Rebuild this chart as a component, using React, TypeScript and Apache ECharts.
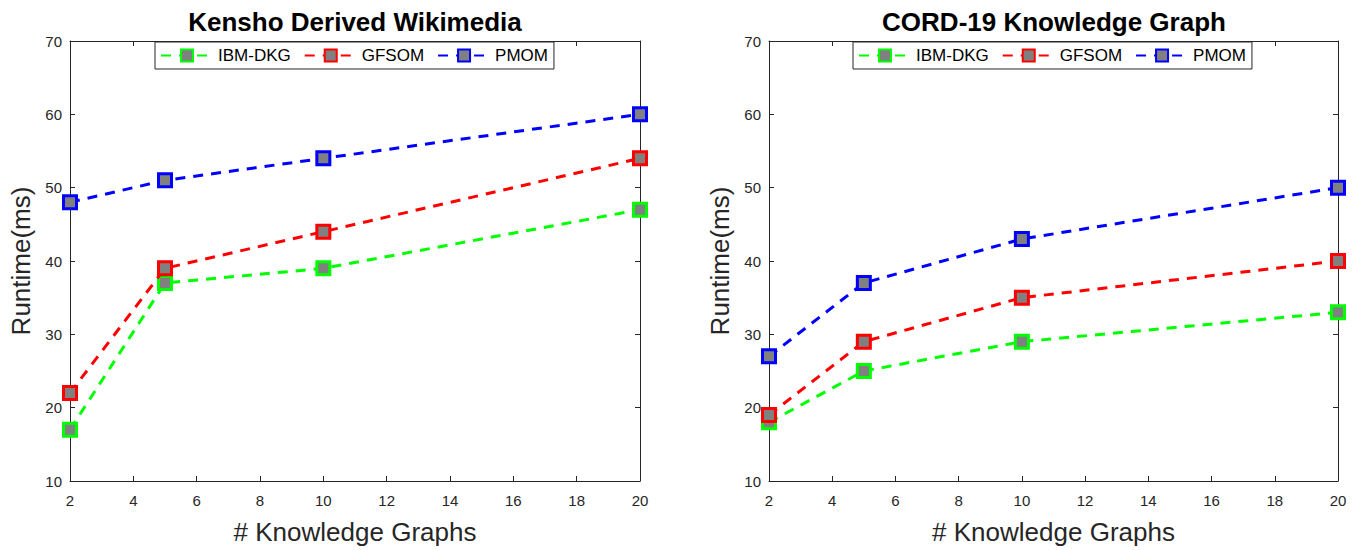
import React, { useEffect, useRef } from "react";
import * as echarts from "echarts";

const xValues = [2, 5, 10, 20];
const seriesNames = ["IBM-DKG", "GFSOM", "PMOM"];
const seriesColors = ["#00ff00", "#ff0000", "#0000ff"];

const kenshoIBM = [17, 37, 39, 47];
const kenshoGFSOM = [22, 39, 44, 54];
const kenshoPMOM = [48, 51, 54, 60];

const cordIBM = [18, 25, 29, 33];
const cordGFSOM = [19, 29, 35, 40];
const cordPMOM = [27, 37, 43, 50];

const panelTitles = ["Kensho Derived Wikimedia", "CORD-19 Knowledge Graph"];
const xAxisName = "# Knowledge Graphs";
const yAxisName = "Runtime(ms)";

const FONT = "'Liberation Sans', Arial, Helvetica, sans-serif";
const AXIS_COLOR = "#262626";

export default function App() {
  const ref = useRef<HTMLDivElement>(null);
  useEffect(() => {
    document.documentElement.style.overflow = "hidden";
    document.body.style.margin = "0";
    document.body.style.overflow = "hidden";
    const chart = echarts.init(ref.current!, null, { renderer: "svg" });
    const grids = [
      { left: 70, top: 41, width: 570, height: 446 },
      { left: 769, top: 41, width: 569, height: 446 },
    ];
    const panels = [
      [kenshoIBM, kenshoGFSOM, kenshoPMOM],
      [cordIBM, cordGFSOM, cordPMOM],
    ];
    const lineAxis = { show: true, onZero: false, lineStyle: { color: AXIS_COLOR, width: 1 } };
    const tick = { show: true, inside: true, length: 5, lineStyle: { color: AXIS_COLOR } };
    const xAxes: any[] = [];
    const yAxes: any[] = [];
    grids.forEach((_, gi) => {
      xAxes.push({
        type: "value",
        gridIndex: gi,
        min: 2,
        max: 20,
        interval: 2,
        position: "bottom",
        name: xAxisName,
        nameLocation: "middle",
        nameGap: 38,
        nameTextStyle: { fontSize: 26, color: AXIS_COLOR, fontFamily: FONT },
        axisLine: lineAxis,
        axisTick: tick,
        axisLabel: { fontSize: 15, color: AXIS_COLOR, fontFamily: FONT, margin: 12 },
        splitLine: { show: false },
      });
      xAxes.push({
        type: "value",
        gridIndex: gi,
        min: 2,
        max: 20,
        interval: 2,
        position: "top",
        axisLine: lineAxis,
        axisTick: tick,
        axisLabel: { show: false },
        splitLine: { show: false },
      });
      yAxes.push({
        type: "value",
        gridIndex: gi,
        min: 10,
        max: 70,
        interval: 10,
        position: "left",
        name: yAxisName,
        nameLocation: "middle",
        nameGap: 36,
        nameTextStyle: { fontSize: 26, color: AXIS_COLOR, fontFamily: FONT },
        axisLine: lineAxis,
        axisTick: tick,
        axisLabel: { fontSize: 15, color: AXIS_COLOR, fontFamily: FONT, margin: 8 },
        splitLine: { show: false },
      });
      yAxes.push({
        type: "value",
        gridIndex: gi,
        min: 10,
        max: 70,
        interval: 10,
        position: "right",
        axisLine: lineAxis,
        axisTick: tick,
        axisLabel: { show: false },
        splitLine: { show: false },
      });
    });
    const series: any[] = [];
    panels.forEach((panel, gi) => {
      panel.forEach((vals, si) => {
        series.push({
          type: "line",
          name: seriesNames[si],
          xAxisIndex: gi * 2,
          yAxisIndex: gi * 2,
          data: xValues.map((x, i) => [x, vals[i]]),
          symbol: "rect",
          symbolSize: 13,
          lineStyle: { color: seriesColors[si], width: 3, type: [10, 8] },
          itemStyle: { color: "#808080", borderColor: seriesColors[si], borderWidth: 3 },
          z: 2 + si,
        });
      });
    });
    const legendCommon = {
      data: seriesNames,
      top: 42,
      orient: "horizontal",
      backgroundColor: "#ffffff",
      borderColor: AXIS_COLOR,
      borderWidth: 1,
      borderRadius: 0,
      padding: [5, 6, 5, 5],
      itemGap: 13,
      itemWidth: 52,
      itemHeight: 15,
      textStyle: { fontSize: 17, color: "#000", fontFamily: FONT },
    };
    const titleStyle = {
      fontSize: 26,
      fontWeight: "bold",
      fontFamily: FONT,
      fill: "#000",
      textAlign: "center",
      textVerticalAlign: "middle",
    };
    chart.setOption({
      animation: false,
      backgroundColor: "#ffffff",
      grid: grids.map((g) => ({ ...g, containLabel: false })),
      xAxis: xAxes,
      yAxis: yAxes,
      legend: [
        { ...legendCommon, left: 155 },
        { ...legendCommon, left: 853 },
      ],
      series,
      graphic: [
        { type: "text", x: 355, y: 22, style: { ...titleStyle, text: panelTitles[0] } },
        { type: "text", x: 1054, y: 22, style: { ...titleStyle, text: panelTitles[1] } },
      ],
    });
    return () => chart.dispose();
  }, []);
  return (
    <div
      ref={ref}
      style={{ position: "absolute", left: 0, top: 0, width: 1362, height: 550 }}
    />
  );
}
